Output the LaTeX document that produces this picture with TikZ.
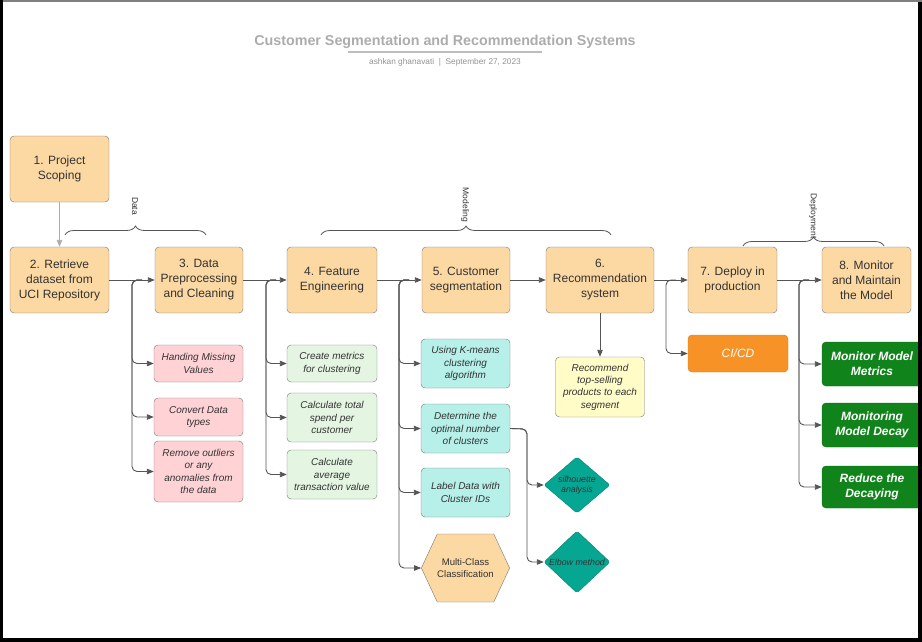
\documentclass[tikz,border=0pt]{standalone}
\usepackage{fontspec}
\setmainfont{Liberation Sans}
\usetikzlibrary{arrows.meta, positioning, shapes.geometric, shapes.symbols, decorations.pathreplacing}
\definecolor{stepfill}{RGB}{252,216,163}
\definecolor{boxedge}{RGB}{120,120,120}
\definecolor{cleanpink}{RGB}{255,211,214}
\definecolor{featgreen}{RGB}{228,246,226}
\definecolor{segcyan}{RGB}{183,239,233}
\definecolor{recyellow}{RGB}{255,252,199}
\definecolor{cicdorange}{RGB}{247,147,38}
\definecolor{monitorgreen}{RGB}{16,132,26}
\definecolor{diamondteal}{RGB}{5,166,146}
\definecolor{darktext}{RGB}{51,51,51}
\definecolor{linegray}{RGB}{85,85,85}
\definecolor{titlegray}{RGB}{172,172,172}

\begin{document}
\begin{tikzpicture}[x=1pt, y=-1pt,
  stepbox/.style={draw=boxedge, fill=stepfill, rounded corners=4pt,
    minimum width=89pt, minimum height=66pt, inner sep=1pt, align=center,
    text=darktext, font=\fontsize{12}{15}\selectfont},
  taskbox/.style={draw=boxedge, rounded corners=4pt, minimum width=89pt,
    inner sep=1pt, align=center, text=darktext, font=\fontsize{10}{12.3}\selectfont\itshape},
  monbox/.style={draw=monitorgreen!80!black, fill=monitorgreen, rounded corners=4pt,
    minimum width=100pt, minimum height=44pt, align=center, text=white,
    font=\fontsize{12}{15}\selectfont\bfseries\itshape},
  checkpt/.style={diamond, draw=diamondteal!80!black, fill=diamondteal, rounded corners=2pt,
    minimum width=66pt, minimum height=55pt, inner sep=0pt, align=center,
    text=darktext, font=\fontsize{8.8}{10.5}\selectfont\itshape},
  arr/.style={-{Triangle[length=7pt, width=5.5pt]}, line width=0.9pt, linegray},
  branch/.style={arr, rounded corners=5pt},
  phase/.style={decorate, decoration={brace, amplitude=9pt}, line width=0.8pt, linegray},
  phaselbl/.style={rotate=-90, text=darktext, font=\fontsize{8.5}{10}\selectfont}
]
  \useasboundingbox (0,0) rectangle (922,642);

  % Title
  \node[font=\fontsize{14.3}{16}\selectfont\bfseries, text=titlegray] (title) at (445,42) {Customer Segmentation and Recommendation Systems};
  \draw[line width=2pt, titlegray!80] (348,52) -- (542,52);
  \node[font=\fontsize{8.3}{10}\selectfont, text=titlegray!85!black] (byline) at (445,62) {ashkan ghanavati~~|~~September 27, 2023};

  % Main steps
  \node[stepbox, minimum width=99pt] (scope) at (59.5,169) {1. Project\\Scoping};
  \node[stepbox, minimum width=99pt] (retrieve) at (59.5,280) {2. Retrieve\\dataset from\\UCI Repository};
  \node[stepbox, minimum width=88pt] (prep) at (199,280) {3. Data\\Preprocessing\\and Cleaning};
  \node[stepbox, minimum width=90pt] (feature) at (332,280) {4. Feature\\Engineering};
  \node[stepbox, minimum width=88pt] (segment) at (466,280) {5. Customer\\segmentation};
  \node[stepbox, minimum width=108pt] (recsys) at (600,280) {6.\\Recommendation\\system};
  \node[stepbox] (deploy) at (732.5,280) {7. Deploy in\\production};
  \node[stepbox] (monitor) at (866.5,280) {8. Monitor\\and Maintain\\the Model};

  \draw[arr, titlegray] (scope) -- (retrieve);
  \draw[arr] (retrieve) -- (prep);
  \draw[arr] (prep) -- (feature);
  \draw[arr] (feature) -- (segment);
  \draw[arr] (segment) -- (recsys);
  \draw[arr] (recsys) -- (deploy);
  \draw[arr] (deploy) -- (monitor);

  % Phase braces
  \coordinate (dataL) at (65,235);
  \coordinate (dataR) at (206,235);
  \coordinate (modL) at (321,235);
  \coordinate (modR) at (611,235);
  \coordinate (depL) at (743,246);
  \coordinate (depR) at (884,246);
  \draw[phase] (dataL) -- (dataR);
  \draw[phase] (modL) -- (modR);
  \draw[phase] (depL) -- (depR);
  \node[phaselbl] (datalbl) at (135,206) {Data};
  \node[phaselbl] (modlbl) at (465,205) {Modeling};
  \node[phaselbl] (deplbl) at (813,216) {Deployment};

  % Cleaning tasks
  \node[taskbox, fill=cleanpink, minimum height=37pt] (missing) at (198.5,363.5) {Handing Missing\\Values};
  \node[taskbox, fill=cleanpink, minimum height=38pt] (convert) at (198.5,417) {Convert Data\\types};
  \node[taskbox, fill=cleanpink, minimum height=61pt] (outliers) at (198.5,471.5) {Remove outliers\\or any\\anomalies from\\the data};

  % Feature tasks
  \node[taskbox, fill=featgreen, minimum width=90pt, minimum height=37pt] (metrics) at (332,363.5) {Create metrics\\for clustering};
  \node[taskbox, fill=featgreen, minimum width=90pt, minimum height=49pt] (spend) at (332,417.5) {Calculate total\\spend per\\customer};
  \node[taskbox, fill=featgreen, minimum width=90pt, minimum height=49pt] (avgval) at (332,474.5) {Calculate\\average\\transaction value};

  % Segmentation tasks
  \node[taskbox, fill=segcyan, minimum height=49pt] (kmeans) at (465.5,363.5) {Using K-means\\clustering\\algorithm};
  \node[taskbox, fill=segcyan, minimum height=49pt] (optk) at (465.5,428.5) {Determine the\\optimal number\\of clusters};
  \node[taskbox, fill=segcyan, minimum height=49pt] (labels) at (465.5,492.5) {Label Data with\\Cluster IDs};
  \node[signal, signal to=east and west, signal pointer angle=130, draw=boxedge, fill=stepfill,
    minimum width=87pt, minimum height=68pt, inner sep=0pt, align=center, text=darktext,
    font=\fontsize{9.6}{12}\selectfont] (multiclass) at (465.5,568) {Multi-Class\\Classification};
  \node[checkpt] (silhouette) at (577,485) {silhouette\\analysis};
  \node[checkpt] (elbow) at (577,562) {Elbow method};

  % Recommendation and deployment
  \node[taskbox, fill=recyellow, minimum height=60pt] (topsell) at (600,387) {Recommend\\top-selling\\products to each\\segment};
  \node[taskbox, draw=cicdorange!85!black, fill=cicdorange, text=white, minimum width=100pt, minimum height=37pt,
    font=\fontsize{12}{15}\selectfont\itshape] (cicd) at (738,353.5) {CI/CD};
  \node[monbox] (monmetrics) at (872,364) {Monitor Model\\Metrics};
  \node[monbox] (mondecay) at (872,425) {Monitoring\\Model Decay};
  \node[monbox, minimum height=42pt] (reduce) at (872,487) {Reduce the\\Decaying};

  % Branch connectors
  \coordinate (j3) at (132,280);
  \coordinate (j4) at (266,280);
  \coordinate (j5) at (399,280);
  \coordinate (j7) at (666,280);
  \coordinate (j8) at (799,280);
  \coordinate (jk) at (527,429);
  \foreach \t in {missing, convert, outliers}
    \draw[branch] ([xshift=10pt]j3) -- (j3) |- (\t.west);
  \foreach \t in {metrics, spend, avgval}
    \draw[branch] ([xshift=10pt]j4) -- (j4) |- (\t.west);
  \foreach \t in {kmeans, optk, labels, multiclass}
    \draw[branch] ([xshift=10pt]j5) -- (j5) |- (\t.west);
  \foreach \t in {silhouette, elbow}
    \draw[branch] (optk.east) -- (jk) |- (\t.west);
  \draw[branch] ([xshift=10pt]j7) -- (j7) |- (cicd.west);
  \foreach \t in {monmetrics, mondecay, reduce}
    \draw[branch] ([xshift=10pt]j8) -- (j8) |- (\t.west);
  \draw[arr] (recsys.south) -- (topsell.north);

  % Frame
  \fill[gray] (0,0) rectangle (922,2);
  \fill[black] (0,0) rectangle (2.5,642);
  \fill[black] (918,2) rectangle (922,642);
  \fill[black] (0,638) rectangle (922,642);
\end{tikzpicture}
\end{document}
